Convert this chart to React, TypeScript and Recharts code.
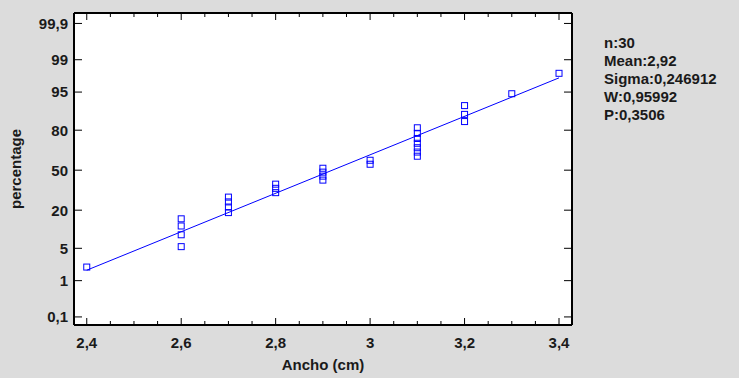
import React from "react";
import {
  ScatterChart, Scatter, XAxis, YAxis, CartesianGrid,
} from "recharts";

// Ancho (cm) values, sorted, n = 30
const anchoValues = [
  2.4,
  2.6, 2.6, 2.6, 2.6,
  2.7, 2.7, 2.7, 2.7,
  2.8, 2.8, 2.8,
  2.9, 2.9, 2.9, 2.9,
  3.0, 3.0,
  3.1, 3.1, 3.1, 3.1, 3.1, 3.1, 3.1,
  3.2, 3.2, 3.2,
  3.3,
  3.4,
];

// normal scores (percentage axis is drawn on a probit scale)
const normalScores = [
  -2.04,
  -1.61, -1.36, -1.175, -1.024,
  -0.893, -0.776, -0.668, -0.567,
  -0.473, -0.382, -0.294,
  -0.209, -0.125, -0.041, 0.041,
  0.125, 0.209,
  0.294, 0.382, 0.473, 0.567, 0.668, 0.776, 0.893,
  1.024, 1.175, 1.36,
  1.61,
  2.04,
];

// fitted normal line endpoints
const fitX = [2.4, 3.4];
const fitZ = [-2.106, 1.944];

const xMajorTicks = [2.4, 2.6, 2.8, 3.0, 3.2, 3.4];
const xTickLabels = ["2,4", "2,6", "2,8", "3", "3,2", "3,4"];
const xAllTicks = [
  2.4, 2.45, 2.5, 2.55, 2.6, 2.65, 2.7, 2.75, 2.8, 2.85, 2.9,
  2.95, 3.0, 3.05, 3.1, 3.15, 3.2, 3.25, 3.3, 3.35, 3.4,
];

const yTickZ = [-3.09, -2.326, -1.645, -0.842, 0, 0.842, 1.645, 2.326, 3.09];
const yTickLabels = ["0,1", "1", "5", "20", "50", "80", "95", "99", "99,9"];

const statsLines = ["n:30", "Mean:2,92", "Sigma:0,246912", "W:0,95992", "P:0,3506"];

const points = anchoValues.map((x, i) => ({ x, z: normalScores[i] }));
const fitLine = fitX.map((x, i) => ({ x, z: fitZ[i] }));

const FONT = "'Liberation Sans', Arial, sans-serif";
const BLUE = "#0000ff";
const TEXT = "#1a1a1a";

const majorIdx = (v: number) => xMajorTicks.findIndex((m) => Math.abs(m - v) < 1e-6);

const BottomTick = (props: any) => {
  const { x, y, payload } = props;
  const idx = majorIdx(payload.value);
  const len = idx >= 0 ? 7 : 4;
  return (
    <g>
      <line x1={x} y1={y} x2={x} y2={y - len} stroke="#000" strokeWidth={1} />
      {idx >= 0 && (
        <text x={x} y={y + 23} textAnchor="middle" fontSize={15} fontWeight="bold" fontFamily={FONT} fill={TEXT}>
          {xTickLabels[idx]}
        </text>
      )}
    </g>
  );
};

const TopTick = (props: any) => {
  const { x, y, payload } = props;
  const len = majorIdx(payload.value) >= 0 ? 7 : 4;
  return <line x1={x} y1={y} x2={x} y2={y + len} stroke="#000" strokeWidth={1} />;
};

const LeftTick = (props: any) => {
  const { x, y, index } = props;
  return (
    <g>
      <line x1={x} y1={y} x2={x + 8} y2={y} stroke="#000" strokeWidth={1} />
      <text x={x - 6} y={y} dy="0.36em" textAnchor="end" fontSize={15} fontWeight="bold" fontFamily={FONT} fill={TEXT}>
        {yTickLabels[index]}
      </text>
    </g>
  );
};

const RightTick = (props: any) => {
  const { x, y } = props;
  return <line x1={x} y1={y} x2={x - 8} y2={y} stroke="#000" strokeWidth={1} />;
};

const Square = (props: any) => {
  const { cx, cy } = props;
  return <rect x={cx - 3} y={cy - 3} width={6} height={6} fill="none" stroke={BLUE} strokeWidth={1} />;
};

export default function App() {
  const xDomain = [2.373, 3.4275];
  const yDomain = [-3.26, 3.31];
  return (
    <div style={{ position: "absolute", left: 0, top: 0, width: 739, height: 378, background: "#dcdcdc", fontFamily: FONT }}>
      <ScatterChart width={739} height={378} margin={{ top: 0, right: 0, bottom: 0, left: 0 }}>
        <CartesianGrid horizontal={false} vertical={false} fill="#ffffff" />
        <XAxis
          xAxisId="b" type="number" dataKey="x" orientation="bottom" height={53}
          domain={xDomain} allowDataOverflow ticks={xAllTicks} interval={0}
          tick={<BottomTick />} tickSize={0} tickMargin={0}
          axisLine={{ stroke: "#000", strokeWidth: 2 }} tickLine={false}
          label={{ value: "Ancho (cm)", position: "insideBottom", offset: 8, fontSize: 15, fontWeight: "bold", fill: TEXT, fontFamily: FONT }}
        />
        <XAxis
          xAxisId="t" type="number" dataKey="x" orientation="top" height={13}
          domain={xDomain} allowDataOverflow ticks={xAllTicks} interval={0}
          tick={<TopTick />} tickSize={0} tickMargin={0}
          axisLine={{ stroke: "#000", strokeWidth: 2 }} tickLine={false}
        />
        <YAxis
          yAxisId="l" type="number" dataKey="z" orientation="left" width={74}
          domain={yDomain} allowDataOverflow ticks={yTickZ} interval={0}
          tick={<LeftTick />} tickSize={0} tickMargin={0}
          axisLine={{ stroke: "#000", strokeWidth: 2 }} tickLine={false}
          label={{ value: "percentage", angle: -90, position: "insideLeft", offset: 16, fontSize: 15, fontWeight: "bold", fill: TEXT, fontFamily: FONT, style: { textAnchor: "middle" } }}
        />
        <YAxis
          yAxisId="r" type="number" dataKey="z" orientation="right" width={167}
          domain={yDomain} allowDataOverflow ticks={yTickZ} interval={0}
          tick={<RightTick />} tickSize={0} tickMargin={0}
          axisLine={{ stroke: "#000", strokeWidth: 2 }} tickLine={false}
        />
        <Scatter
          xAxisId="b" yAxisId="l" data={fitLine} line={{ stroke: BLUE, strokeWidth: 1 }}
          shape={() => <g />} isAnimationActive={false}
        />
        <Scatter
          xAxisId="b" yAxisId="l" data={points} shape={<Square />} isAnimationActive={false}
        />
        <Scatter
          xAxisId="t" yAxisId="r" data={[]} shape={() => <g />} isAnimationActive={false}
        />
      </ScatterChart>
      <div style={{ position: "absolute", left: 604, top: 34, fontSize: 15, fontWeight: "bold", color: TEXT, lineHeight: "18px" }}>
        {statsLines.map((s) => (
          <div key={s}>{s}</div>
        ))}
      </div>
    </div>
  );
}
